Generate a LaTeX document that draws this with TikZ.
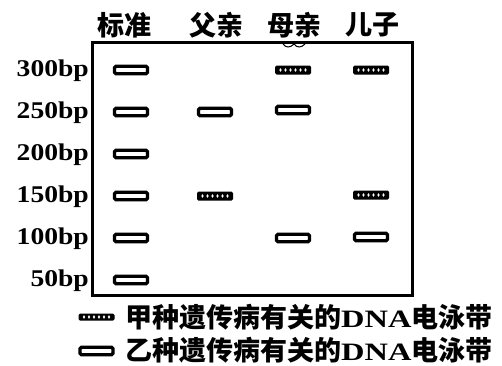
\documentclass[tikz,border=0pt]{standalone}
\usepackage{fontspec}
\newfontfamily\cjk{Noto Sans CJK SC}
\newfontfamily\lab[FakeStretch=1.15]{Liberation Serif}
\newfontfamily\dna[FakeStretch=1.3]{Liberation Serif}
\begin{document}
\begin{tikzpicture}[x=1pt,y=-1pt,
  openband/.style={draw, line width=3.4pt, rounded corners=1.5pt, minimum width=33pt, minimum height=7.5pt, inner sep=0pt, fill=white},
  hatchband/.style={fill=black, rounded corners=1.5pt, minimum width=36pt, minimum height=9pt, inner sep=0pt,
    path picture={\foreach \i in {-2.5,-1.5,...,2.5}
      \fill[white] ([xshift={\i*5pt}]path picture bounding box.center) ellipse (1.2pt and 1.8pt);}},
  bplab/.style={anchor=base east, font=\lab\bfseries\fontsize{24}{24}\selectfont, inner sep=0pt},
  head/.style={font=\cjk\bfseries\fontsize{27}{27}\selectfont, inner sep=0pt},
  legtext/.style={anchor=west, inner sep=0pt, font=\fontsize{27}{27}\selectfont}]
\useasboundingbox (0,0) rectangle (502,365);
% gel box
\coordinate (tl) at (92,42);
\coordinate (br) at (412,295);
\draw[line width=3pt] (tl) rectangle (br);
\draw[line width=1pt] (283,44) .. controls (286,48) and (290,48) .. (294,44)
  .. controls (297,48) and (301,48) .. (305,44);
% headers
\node[head] (h1) at (124.5,25) {标准};
\node[head] (h2) at (216,25) {父亲};
\node[head] (h3) at (294,25) {母亲};
\node[head] (h4) at (372,25) {儿子};
% size labels
\node[bplab] (l300) at (89,76) {300bp};
\node[bplab] (l250) at (89,118) {250bp};
\node[bplab] (l200) at (89,160) {200bp};
\node[bplab] (l150) at (89,202) {150bp};
\node[bplab] (l100) at (89,244) {100bp};
\node[bplab] (l50) at (89,286) {50bp};
% standard
\node[openband] (s300) at (131,70) {};
\node[openband] (s250) at (131,112) {};
\node[openband] (s200) at (131,154) {};
\node[openband] (s150) at (131,196) {};
\node[openband] (s100) at (131,238) {};
\node[openband] (s50) at (131,280) {};
% father
\node[openband] (f250) at (215,112) {};
\node[hatchband] (f150) at (215,196) {};
% mother
\node[hatchband] (m300) at (293,70) {};
\node[openband] (m250) at (293,110) {};
\node[openband] (m100) at (293,238) {};
% son
\node[hatchband] (c300) at (371,70) {};
\node[hatchband] (c150) at (371,195) {};
\node[openband] (c100) at (371,237) {};
% legend
\node[hatchband, minimum height=7pt] (k1) at (96.5,317) {};
\node[openband] (k2) at (96.5,351) {};
\node[legtext] (t1) at (125,317) {{\cjk\bfseries 甲种遗传病有关的}{\dna\bfseries\fontsize{25}{25}\selectfont DNA}{\cjk\bfseries 电泳带}};
\node[legtext] (t2) at (125,350) {{\cjk\bfseries 乙种遗传病有关的}{\dna\bfseries\fontsize{25}{25}\selectfont DNA}{\cjk\bfseries 电泳带}};
\end{tikzpicture}
\end{document}
